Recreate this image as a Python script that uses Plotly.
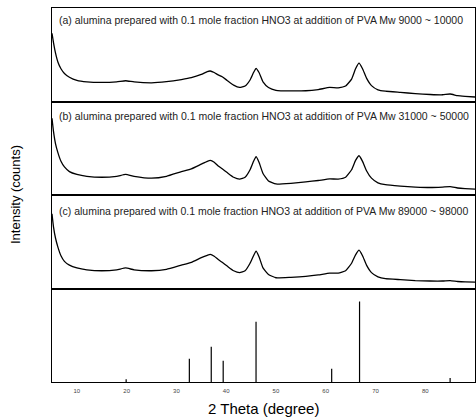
import plotly.graph_objects as go
from plotly.subplots import make_subplots

two_theta = [5, 5.3, 5.7, 6.2, 6.8, 7.5, 8.5, 10, 12, 15, 18, 19.8, 21.5, 25, 28, 31, 33, 35, 36.2, 36.8,
             37.6, 38.4, 39.2, 40.2, 41.5, 42.7, 43.8, 44.8, 45.5, 46.0, 46.6, 47.4, 48.5, 50, 53, 56, 58.5,
             60.8, 62.5, 64, 65.2, 66.0, 66.7, 67.4, 68.2, 69.2, 70.5, 72, 75, 78, 81, 83.5, 85, 86.5, 88, 90]

int_a = [0.73, 0.63, 0.52, 0.42, 0.35, 0.30, 0.26, 0.226, 0.21, 0.204, 0.21, 0.222, 0.21, 0.20, 0.212, 0.235,
         0.255, 0.29, 0.32, 0.326, 0.31, 0.285, 0.265, 0.225, 0.175, 0.15, 0.165, 0.23, 0.31, 0.355, 0.31, 0.21,
         0.15, 0.12, 0.113, 0.115, 0.128, 0.15, 0.145, 0.165, 0.24, 0.35, 0.41, 0.35, 0.25, 0.17, 0.125, 0.11,
         0.097, 0.085, 0.075, 0.072, 0.08, 0.062, 0.055, 0.048]

int_b = [0.82, 0.68, 0.55, 0.45, 0.36, 0.30, 0.25, 0.22, 0.20, 0.19, 0.20, 0.22, 0.20, 0.18, 0.20, 0.25, 0.28,
         0.33, 0.36, 0.37, 0.35, 0.31, 0.28, 0.24, 0.19, 0.17, 0.19, 0.27, 0.36, 0.41, 0.35, 0.23, 0.15, 0.118,
         0.125, 0.14, 0.155, 0.172, 0.17, 0.19, 0.27, 0.37, 0.42, 0.36, 0.26, 0.18, 0.13, 0.11, 0.095, 0.085,
         0.08, 0.085, 0.09, 0.075, 0.068, 0.063]

int_c = [0.80, 0.66, 0.54, 0.44, 0.35, 0.29, 0.25, 0.22, 0.20, 0.19, 0.20, 0.22, 0.20, 0.19, 0.205, 0.25, 0.28,
         0.33, 0.355, 0.365, 0.345, 0.31, 0.28, 0.24, 0.19, 0.17, 0.19, 0.27, 0.35, 0.40, 0.34, 0.22, 0.15,
         0.115, 0.12, 0.13, 0.145, 0.165, 0.165, 0.19, 0.27, 0.36, 0.41, 0.35, 0.25, 0.17, 0.125, 0.105, 0.095,
         0.085, 0.08, 0.08, 0.085, 0.075, 0.07, 0.068]

ref_pos = [19.9, 32.6, 37.0, 39.4, 46.0, 61.2, 66.8, 85.0]
ref_int = [0.03, 0.25, 0.376, 0.226, 0.645, 0.143, 0.86, 0.043]

labels = [
    "(a) alumina prepared with 0.1 mole fraction HNO3 at addition of PVA Mw 9000 ~ 10000",
    "(b) alumina prepared with 0.1 mole fraction HNO3 at addition of PVA Mw 31000 ~ 50000",
    "(c) alumina prepared with 0.1 mole fraction HNO3 at addition of PVA Mw 89000 ~ 98000",
]
label_y = [0.87, 0.85, 0.83]
x_ticks = [10, 20, 30, 40, 50, 60, 70, 80, 90]

fig = make_subplots(rows=4, cols=1, shared_xaxes=True, vertical_spacing=0)

for i, ys in enumerate([int_a, int_b, int_c]):
    fig.add_trace(go.Scatter(x=two_theta, y=ys, mode="lines",
                             line=dict(color="black", width=1.3, shape="spline", smoothing=0.4),
                             showlegend=False), row=i + 1, col=1)

# reference pattern as vertical sticks from zero
fig.add_trace(go.Scatter(x=ref_pos, y=ref_int, mode="markers", marker=dict(size=1, color="rgba(0,0,0,0)"),
                         error_y=dict(type="data", symmetric=False, array=[0] * len(ref_int),
                                      arrayminus=ref_int, width=0, thickness=1.2, color="black"),
                         showlegend=False), row=4, col=1)

font = "Liberation Sans, Arial, sans-serif"
for r in range(1, 5):
    fig.update_yaxes(range=[0, 1], showticklabels=False, ticks="", showgrid=False, zeroline=False,
                     showline=True, mirror=True, linecolor="black", linewidth=1, row=r, col=1)
    fig.update_xaxes(range=[5, 90], showgrid=False, zeroline=False, showline=True, mirror=True,
                     linecolor="black", linewidth=1, ticks="", row=r, col=1)

fig.update_xaxes(tickvals=x_ticks, ticktext=[str(t) for t in x_ticks], showticklabels=True,
                 tickfont=dict(size=6, color="#444", family=font), ticklabelstandoff=3, row=4, col=1)

for i, (txt, yy) in enumerate(zip(labels, label_y)):
    ax = "" if i == 0 else str(i + 1)
    fig.add_annotation(text=txt, xref=f"x{ax} domain", yref=f"y{ax} domain", x=0.012, y=yy,
                       xanchor="left", yanchor="middle", showarrow=False,
                       font=dict(size=10.5, color="#222", family=font))

fig.add_annotation(text="2 Theta (degree)", xref="paper", yref="paper", x=0.499, y=(382 - 408) / 374,
                   xanchor="center", yanchor="middle", showarrow=False,
                   font=dict(size=15, color="black", family=font))
fig.add_annotation(text="Intensity (counts)", xref="paper", yref="paper", x=(15 - 52) / 423, y=0.5,
                   xanchor="center", yanchor="middle", textangle=-90, showarrow=False,
                   font=dict(size=13, color="black", family=font))

fig.update_layout(width=476, height=418, margin=dict(l=52, r=1, t=8, b=36),
                  plot_bgcolor="white", paper_bgcolor="white")

fig.write_html("out.html")
